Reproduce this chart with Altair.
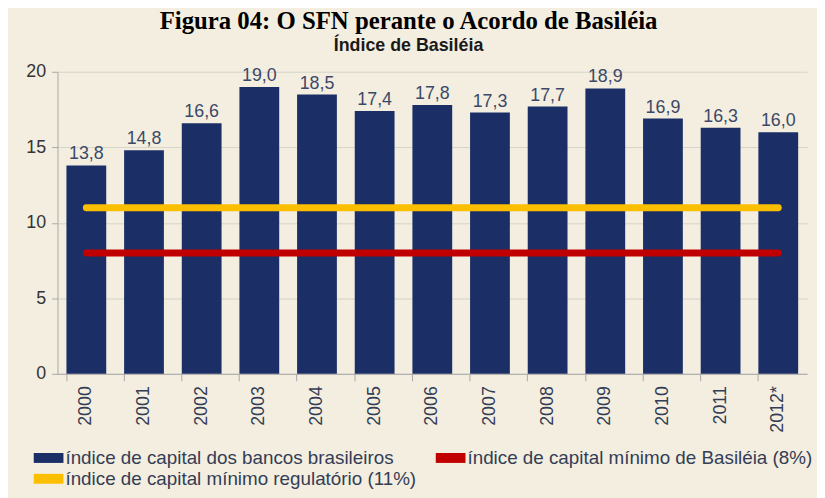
import altair as alt
import pandas as pd

years = ["2000", "2001", "2002", "2003", "2004", "2005", "2006", "2007", "2008", "2009", "2010", "2011", "2012*"]
indice_bancos = [13.8, 14.8, 16.6, 19.0, 18.5, 17.4, 17.8, 17.3, 17.7, 18.9, 16.9, 16.3, 16.0]
minimo_regulatorio = [11.0] * len(years)
minimo_basileia = [8.0] * len(years)

serie_bancos = "índice de capital dos bancos brasileiros"
serie_basileia = "índice de capital mínimo de Basiléia (8%)"
serie_regulatorio = "índice de capital mínimo regulatório (11%)"
# legend fills column by column: column 1 = bancos, regulatório; column 2 = Basiléia
series = [serie_bancos, serie_regulatorio, serie_basileia]
y_ticks = [0, 5, 10, 15, 20]

bars_df = pd.DataFrame({
    "ano": years,
    "valor": indice_bancos,
    "rotulo": [f"{v:.1f}".replace(".", ",") for v in indice_bancos],
    "serie": serie_bancos,
})
lines_df = pd.concat([
    pd.DataFrame({"ano": years, "valor": minimo_basileia, "serie": serie_basileia}),
    pd.DataFrame({"ano": years, "valor": minimo_regulatorio, "serie": serie_regulatorio}),
])

NAVY = "#1b2f66"
RED = "#c00000"
YELLOW = "#fbbf00"
TXT = "#333d55"

x_enc = alt.X("ano:N", sort=years, title=None,
              scale=alt.Scale(paddingInner=0.31, paddingOuter=0.155),
              axis=alt.Axis(labelAngle=-90, labelAlign="right", labelBaseline="middle",
                            labelFont="Liberation Sans", labelFontSize=18, labelColor=TXT,
                            labelPadding=5, tickSize=7, tickColor="#a8a8a8",
                            domainColor="#a8a8a8", bandPosition=0, grid=False))
y_scale = alt.Scale(domain=[0, 20], nice=False)

color_scale = alt.Scale(domain=series, range=[NAVY, YELLOW, RED])

bars = alt.Chart(bars_df).mark_bar(color=NAVY).encode(
    x=x_enc,
    y=alt.Y("valor:Q", scale=y_scale, title=None,
            axis=alt.Axis(values=y_ticks, labelFont="Liberation Sans", labelFontSize=18,
                          labelColor="#333333", labelPadding=6, tickSize=6,
                          tickColor="#a8a8a8", domainColor="#a8a8a8",
                          gridColor="#d6d3c8", gridWidth=1)),
    color=alt.Color("serie:N", scale=color_scale, sort=series, title=None,
                    legend=alt.Legend(orient="none", legendX=-19, legendY=380,
                                      values=series,
                                      columns=2, columnPadding=19, rowPadding=1,
                                      symbolType="M-1.5,-0.5H1.5V0.5H-1.5Z", symbolSize=400,
                                      symbolStrokeWidth=0, labelOffset=7,
                                      labelFont="Liberation Sans", labelFontSize=19,
                                      labelColor=TXT, labelLimit=500)),
)

labels = alt.Chart(bars_df).mark_text(baseline="alphabetic", dy=-6, font="Liberation Sans",
                                      fontSize=18, color="#3c4868").encode(
    x=alt.X("ano:N", sort=years),
    y=alt.Y("valor:Q", scale=y_scale),
    text="rotulo:N",
)

lines = alt.Chart(lines_df).mark_line(strokeWidth=7, strokeCap="round").encode(
    x=alt.X("ano:N", sort=years),
    y=alt.Y("valor:Q", scale=y_scale),
    color=alt.Color("serie:N", scale=color_scale, sort=series, legend=None),
    detail="serie:N",
)

chart = alt.layer(bars, lines, labels).properties(
    width=757, height=305,
    background="#f3eee0",
    padding={"left": 50, "top": 62, "right": 10, "bottom": 123},
    autosize=alt.AutoSizeParams(type="none"),
    title=alt.Title(
        "Figura 04: O SFN perante o Acordo de Basiléia",
        subtitle="Índice de Basiléia",
        anchor="middle", dx=-24, offset=8,
        font="Liberation Serif", fontSize=25, fontWeight="bold", color="#000000",
        subtitleFont="Liberation Sans", subtitleFontSize=18, subtitleFontWeight="bold",
        subtitleColor="#1a1a1a", subtitlePadding=3,
    ),
).configure_view(stroke=None)

chart.save("out.html", embed_options={"renderer": "svg", "actions": False})
